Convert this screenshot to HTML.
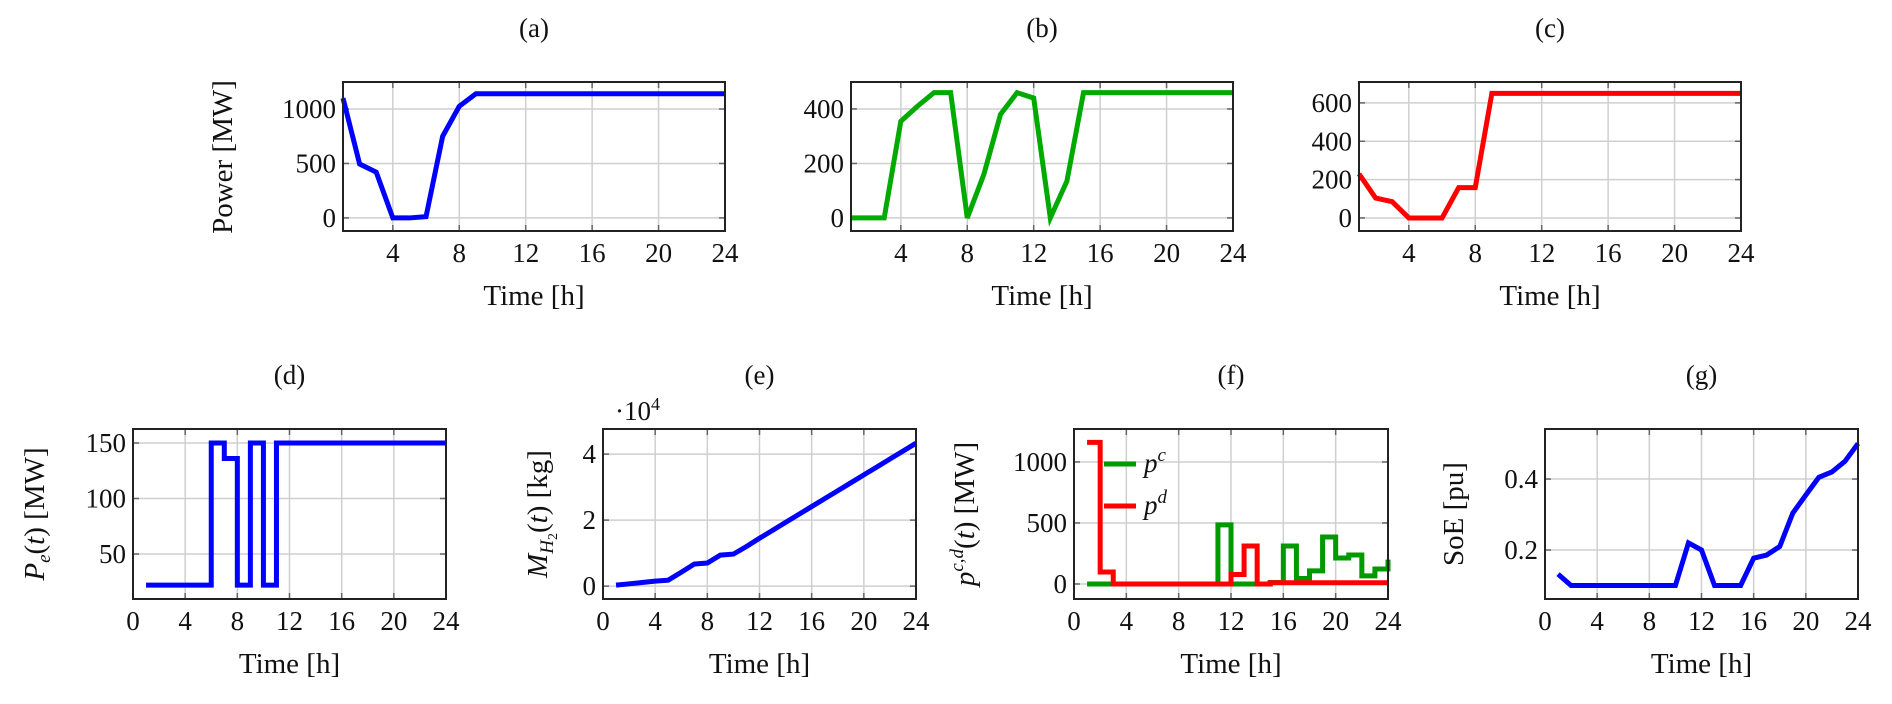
<!DOCTYPE html>
<html><head><meta charset="utf-8">
<style>
html,body{margin:0;padding:0;background:#fff;}
svg{display:block;}
text{font-family:"Liberation Serif","DejaVu Serif",serif;fill:#111;}
</style></head>
<body>
<svg id="fig" width="1892" height="704" viewBox="0 0 1892 704" xmlns="http://www.w3.org/2000/svg"></svg>
<script>
// ---- data ----
const hours = [1,2,3,4,5,6,7,8,9,10,11,12,13,14,15,16,17,18,19,20,21,22,23,24];
const seriesA = [1100,495,420,0,0,12,750,1025,1140,1140,1140,1140,1140,1140,1140,1140,1140,1140,1140,1140,1140,1140,1140,1140];
const seriesB = [0,0,0,355,410,460,460,0,160,380,460,440,0,135,460,460,460,460,460,460,460,460,460,460];
const seriesC = [230,104,85,0,0,0,158,158,650,650,650,650,650,650,650,650,650,650,650,650,650,650,650,650];
const seriesD = [22,22,22,22,22,150,136,22,150,22,150,150,150,150,150,150,150,150,150,150,150,150,150,150];
const seriesE = [0.03,0.07,0.11,0.15,0.18,0.42,0.67,0.70,0.94,0.97,1.2,1.45,1.69,1.93,2.17,2.41,2.65,2.89,3.13,3.37,3.61,3.85,4.09,4.33];
const seriesFc = [0,0,0,0,0,0,0,0,0,0,484,0,0,0,12,311,45,107,385,213,238,66,123,200];
const seriesFd = [1160,98,0,0,0,0,0,0,0,0,0,78,311,0,10,10,10,10,10,10,10,10,10,10];
const seriesG = [0.132,0.1,0.1,0.1,0.1,0.1,0.1,0.1,0.1,0.1,0.22,0.2,0.1,0.1,0.1,0.177,0.186,0.21,0.304,0.355,0.405,0.42,0.45,0.5];
const xTicksTop = [4,8,12,16,20,24];
const xTicksBot = [0,4,8,12,16,20,24];
const yTicksA = [0,500,1000];
const yTicksB = [0,200,400];
const yTicksC = [0,200,400,600];
const yTicksD = [50,100,150];
const yTicksE = [0,2,4];
const yTicksF = [0,500,1000];
const yTicksG = [0.2,0.4];
const yTickLabelsG = ["0.2","0.4"];

const NS = "http://www.w3.org/2000/svg";
const svg = document.getElementById('fig');
function mk(tag, attrs, parent){
  const e = document.createElementNS(NS, tag);
  for (const k in attrs) e.setAttribute(k, attrs[k]);
  (parent||svg).appendChild(e);
  return e;
}

function panel(o){
  const g = mk('g', {});
  
  
  const sx = v => o.L + (v - o.xmin) / (o.xmax - o.xmin) * (o.R - o.L);
  const sy = v => o.B - (v - o.ymin) / (o.ymax - o.ymin) * (o.B - o.T);
  o.xt.forEach(t => {
    const x = sx(t);
    if (x > o.L + 1 && x < o.R - 1) {
      const l = mk('line', {x1:x, y1:o.T, x2:x, y2:o.B, stroke:'#cfcfcf', 'stroke-width':1.5}, g);
      
      
      mk('line', {x1:x, y1:o.B, x2:x, y2:o.B-6, stroke:'#666', 'stroke-width':1.5}, g);
      mk('line', {x1:x, y1:o.T, x2:x, y2:o.T+6, stroke:'#666', 'stroke-width':1.5}, g);
    }
    const tl = mk('text', {x:x, y:o.B+31, 'font-size':27, 'text-anchor':'middle'}, g);
    tl.textContent = t;
    
    
  });
  o.yt.forEach((t,i) => {
    const y = sy(t);
    const l = mk('line', {x1:o.L, y1:y, x2:o.R, y2:y, stroke:'#cfcfcf', 'stroke-width':1.5}, g);
    
    
    mk('line', {x1:o.L, y1:y, x2:o.L+6, y2:y, stroke:'#666', 'stroke-width':1.5}, g);
    mk('line', {x1:o.R, y1:y, x2:o.R-6, y2:y, stroke:'#666', 'stroke-width':1.5}, g);
    const tl = mk('text', {x:o.L-7, y:y+9, 'font-size':27, 'text-anchor':'end'}, g);
    tl.textContent = o.ytl ? o.ytl[i] : t;
    
    
  });
  o.series.forEach(s => {
    let d = '';
    hours.forEach((h,i) => {
      const x = sx(h), y = sy(s.v[i]);
      if (i === 0) d += 'M' + x + ' ' + y;
      else if (s.step) d += ' L' + x + ' ' + sy(s.v[i-1]) + ' L' + x + ' ' + y;
      else d += ' L' + x + ' ' + y;
    });
    const p = mk('path', {d:d, fill:'none', stroke:s.color, 'stroke-width':5, 'stroke-linejoin':'miter'}, g);
    
    
  });
  const fr = mk('rect', {x:o.L, y:o.T, width:o.R-o.L, height:o.B-o.T, fill:'none', stroke:'#222', 'stroke-width':2}, g);
  
  
  const ti = mk('text', {x:(o.L+o.R)/2, y:o.titleY, 'font-size':27, 'text-anchor':'middle'}, g);
  ti.textContent = o.title;
  
  
  const xl = mk('text', {x:(o.L+o.R)/2, y:o.B+74, 'font-size':29, 'text-anchor':'middle'}, g);
  xl.textContent = 'Time [h]';
  
  
  return {g, sx, sy};
}

const topRow = {T:82, B:231, titleY:37};
panel(Object.assign({name:'panel-a', title:'(a)', L:343, R:725, xmin:1, xmax:24, ymin:-120, ymax:1248, xt:xTicksTop, yt:yTicksA,
  series:[{name:'line-a', v:seriesA, color:'#0000ff'}]}, topRow));
panel(Object.assign({name:'panel-b', title:'(b)', L:851, R:1233, xmin:1, xmax:24, ymin:-48, ymax:499, xt:xTicksTop, yt:yTicksB,
  series:[{name:'line-b', v:seriesB, color:'#00aa00'}]}, topRow));
panel(Object.assign({name:'panel-c', title:'(c)', L:1359, R:1741, xmin:1, xmax:24, ymin:-68, ymax:709, xt:xTicksTop, yt:yTicksC,
  series:[{name:'line-c', v:seriesC, color:'#ff0000'}]}, topRow));

const botRow = {T:429, B:599, titleY:384};
panel(Object.assign({name:'panel-d', title:'(d)', L:133, R:446, xmin:0, xmax:24, ymin:9.5, ymax:162.6, xt:xTicksBot, yt:yTicksD,
  series:[{name:'line-d', v:seriesD, color:'#0000ff', step:true}]}, botRow));
panel(Object.assign({name:'panel-e', title:'(e)', L:603, R:916, xmin:0, xmax:24, ymin:-0.39, ymax:4.76, xt:xTicksBot, yt:yTicksE,
  series:[{name:'line-e', v:seriesE, color:'#0000ff'}]}, botRow));
panel(Object.assign({name:'panel-f', title:'(f)', L:1074, R:1388, xmin:0, xmax:24, ymin:-123, ymax:1270, xt:xTicksBot, yt:yTicksF,
  series:[{name:'line-pc', v:seriesFc, color:'#009900', step:true},{name:'line-pd', v:seriesFd, color:'#ff0000', step:true}]}, botRow));
panel(Object.assign({name:'panel-g', title:'(g)', L:1545, R:1858, xmin:0, xmax:24, ymin:0.062, ymax:0.541, xt:xTicksBot, yt:yTicksG, ytl:yTickLabelsG,
  series:[{name:'line-soe', v:seriesG, color:'#0000ff'}]}, botRow));

const lg = mk('g', {});


[['#009900','c',464,'legend-entry-pc'],['#ff0000','d',506,'legend-entry-pd']].forEach(e => {
  const eg = mk('g', {}, lg);
  
  
  mk('line', {x1:1104, y1:e[2], x2:1136, y2:e[2], stroke:e[0], 'stroke-width':5}, eg);
  const t = mk('text', {x:1144, y:e[2]+8, 'font-size':27, 'font-style':'italic'}, eg);
  t.innerHTML = 'p<tspan dy="-11" font-size="19">' + e[1] + '</tspan>';
});
</script>

<div style="position:absolute;left:0;top:0;width:1892px;height:704px;pointer-events:none;">
<svg width="1892" height="704" xmlns="http://www.w3.org/2000/svg" style="position:absolute;left:0;top:0">
  <text transform="translate(232,157) rotate(-90)" font-size="29" text-anchor="middle">Power [MW]</text>
  <text transform="translate(44,514) rotate(-90)" font-size="29" text-anchor="middle"><tspan font-style="italic">P</tspan><tspan font-size="19" dy="6" font-style="italic">e</tspan><tspan dy="-6">(</tspan><tspan font-style="italic">t</tspan>) [MW]</text>
  <text transform="translate(547,514) rotate(-90)" font-size="29" text-anchor="middle"><tspan font-style="italic">M</tspan><tspan font-size="19" dy="6" font-style="italic">H</tspan><tspan font-size="14" dy="4">2</tspan><tspan dy="-10">(</tspan><tspan font-style="italic">t</tspan>) [kg]</text>
  <text x="615" y="420" font-size="27">·10<tspan dy="-10" font-size="18">4</tspan></text>
  <text transform="translate(974,514) rotate(-90)" font-size="29" text-anchor="middle"><tspan font-style="italic">p</tspan><tspan font-size="19" dy="-11" font-style="italic">c,d</tspan><tspan dy="11">(</tspan><tspan font-style="italic">t</tspan>) [MW]</text>
  <text transform="translate(1463,514) rotate(-90)" font-size="29" text-anchor="middle">SoE [pu]</text>
</svg>
</div>
</body></html>
